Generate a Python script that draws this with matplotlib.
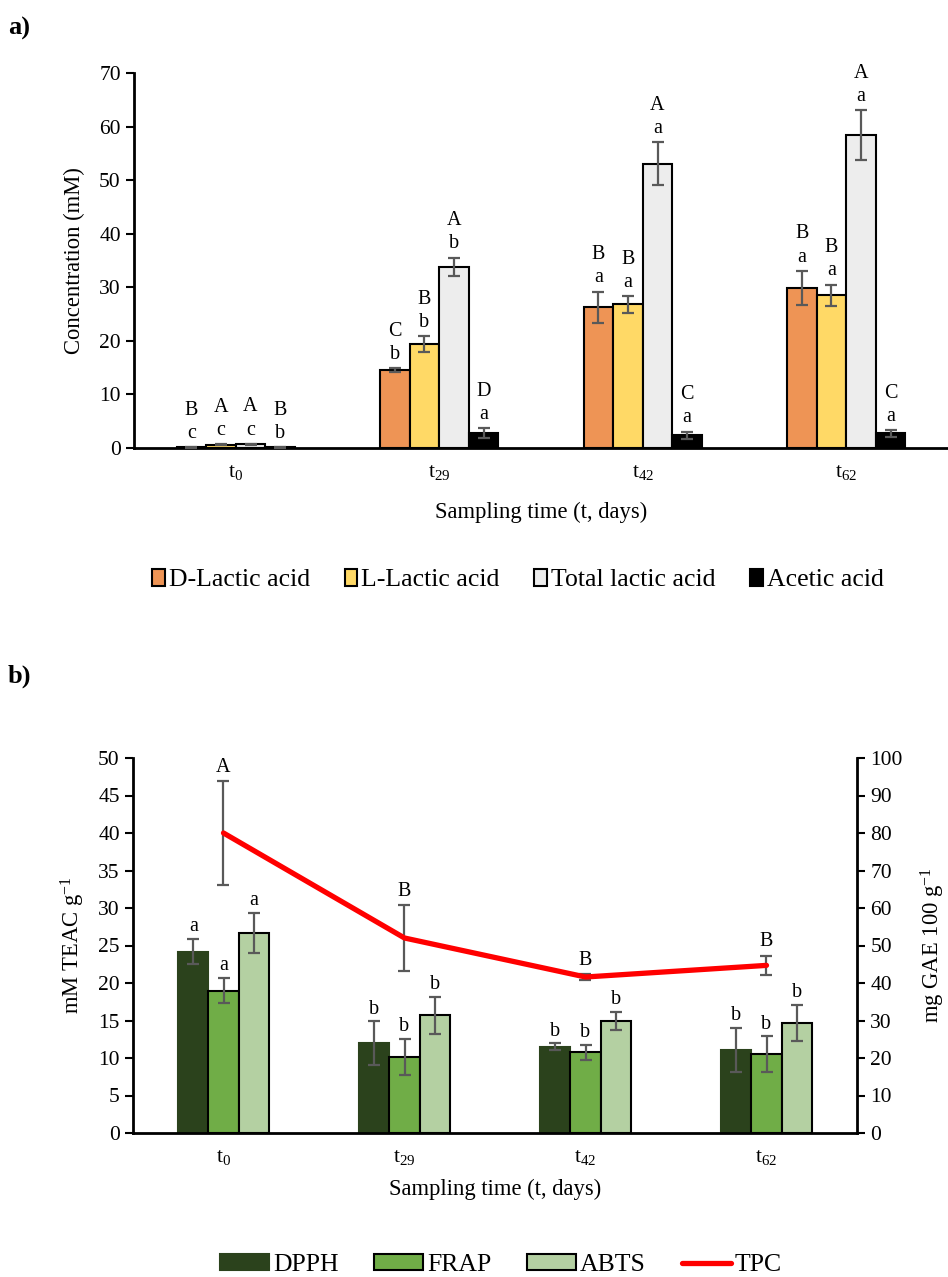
import matplotlib
matplotlib.use("Agg")
import matplotlib.pyplot as plt
import numpy as np
from matplotlib.patches import Patch
from matplotlib.lines import Line2D

plt.rcParams["font.family"] = ["Liberation Serif", "DejaVu Serif"]
plt.rcParams["mathtext.fontset"] = "custom"
plt.rcParams["mathtext.rm"] = "Liberation Serif"
plt.rcParams["mathtext.it"] = "Liberation Serif:italic"

# ---- data -------------------------------------------------------------
times = ["t$_{\\mathregular{0}}$", "t$_{\\mathregular{29}}$",
         "t$_{\\mathregular{42}}$", "t$_{\\mathregular{62}}$"]

acid_names = ["D-Lactic acid", "L-Lactic acid", "Total lactic acid", "Acetic acid"]
d_lactic = [0.1, 14.55, 26.25, 29.9]
l_lactic = [0.6, 19.4, 26.8, 28.5]
total_lactic = [0.7, 33.8, 53.1, 58.4]
acetic = [0.1, 2.85, 2.36, 2.74]
d_lactic_sd = [0.1, 0.3, 2.95, 3.2]
l_lactic_sd = [0.1, 1.5, 1.55, 2.0]
total_lactic_sd = [0.1, 1.75, 4.0, 4.7]
acetic_sd = [0.05, 0.9, 0.7, 0.6]
d_lactic_sig = ["B\nc", "C\nb", "B\na", "B\na"]
l_lactic_sig = ["A\nc", "B\nb", "B\na", "B\na"]
total_lactic_sig = ["A\nc", "A\nb", "A\na", "A\na"]
acetic_sig = ["B\nb", "D\na", "C\na", "C\na"]

dpph = [24.2, 11.97, 11.5, 11.08]
frap = [18.98, 10.2, 10.8, 10.47]
abts = [26.7, 15.7, 14.95, 14.67]
dpph_sd = [1.7, 2.9, 0.45, 2.9]
frap_sd = [1.7, 2.4, 1.0, 2.4]
abts_sd = [2.7, 2.5, 1.15, 2.45]
dpph_sig = ["a", "b", "b", "b"]
frap_sig = ["a", "b", "b", "b"]
abts_sig = ["a", "b", "b", "b"]
tpc = [80.0, 52.0, 41.6, 44.7]
tpc_sd = [13.9, 8.8, 0.8, 2.6]
tpc_sig = ["A", "B", "B", "B"]

# ---- layout helpers ----------------------------------------------------
W, H = 948, 1277
fig = plt.figure(figsize=(W / 100, H / 100), dpi=100)


def rect(left, top, right, bottom):
    return [left / W, 1 - bottom / H, (right - left) / W, (bottom - top) / H]


ERR = "#595959"
TICK_FS = 15.5
LAB_FS = 16.3
SIG_FS = 14.5
LEG_FS = 18.5

# ---- panel a) organic acids -------------------------------------------
ax = fig.add_axes(rect(134, 73, 948, 448))
x = np.arange(len(times))
bw = 0.145
acid_vals = [d_lactic, l_lactic, total_lactic, acetic]
acid_sds = [d_lactic_sd, l_lactic_sd, total_lactic_sd, acetic_sd]
acid_sigs = [d_lactic_sig, l_lactic_sig, total_lactic_sig, acetic_sig]
acid_colors = ["#EE9455", "#FFD966", "#EDEDED", "#000000"]
for i, (vals, sds, sigs, col) in enumerate(zip(acid_vals, acid_sds, acid_sigs, acid_colors)):
    pos = x + (i - 1.5) * bw
    ax.bar(pos, vals, bw, color=col, edgecolor="black", linewidth=1.5, zorder=2)
    ax.errorbar(pos, vals, yerr=sds, fmt="none", ecolor=ERR, elinewidth=1.6,
                capsize=4, capthick=1.6, zorder=3)
    for p, v, s, t in zip(pos, vals, sds, sigs):
        ax.annotate(t, (p, v + s), xytext=(0, 3), textcoords="offset points",
                    ha="center", va="bottom", fontsize=SIG_FS, linespacing=1.3)

ax.set_xlim(-0.5, 3.5)
ax.set_ylim(0, 70)
ax.set_yticks(np.arange(0, 71, 10))
ax.set_xticks(x)
ax.set_xticklabels(times, fontsize=TICK_FS)
ax.tick_params(axis="y", labelsize=TICK_FS, direction="out", length=6, width=1.5)
ax.tick_params(axis="x", length=0, pad=11)
for s in ["top", "right"]:
    ax.spines[s].set_visible(False)
for s in ["left", "bottom"]:
    ax.spines[s].set_linewidth(2)
ax.set_ylabel("Concentration (mM)", fontsize=LAB_FS, labelpad=10)
ax.set_xlabel("Sampling time (t, days)", fontsize=LAB_FS, labelpad=14)

handles_a = [Patch(facecolor=c, edgecolor="black", linewidth=1.5) for c in acid_colors]
fig.legend(handles_a, acid_names, loc="center", bbox_to_anchor=(518 / W, 1 - 580 / H),
           ncol=4, frameon=False, fontsize=LEG_FS, handlelength=0.5, handleheight=0.7,
           handletextpad=0.15, columnspacing=1.35)

fig.text(8 / W, 1 - 28 / H, "a)", fontsize=19, fontweight="bold", va="center", ha="left")
fig.text(8 / W, 1 - 676 / H, "b)", fontsize=19, fontweight="bold", va="center", ha="left")

# ---- panel b) antioxidant activity and TPC -----------------------------
bx = fig.add_axes(rect(133, 758, 857, 1133))
bw2 = 0.166
anti_vals = [dpph, frap, abts]
anti_sds = [dpph_sd, frap_sd, abts_sd]
anti_sigs = [dpph_sig, frap_sig, abts_sig]
anti_colors = ["#2B421C", "#70AD47", "#B4D0A2"]
anti_edges = ["#2B421C", "black", "black"]
for i, (vals, sds, sigs, col, ec) in enumerate(zip(anti_vals, anti_sds, anti_sigs, anti_colors, anti_edges)):
    pos = x + (i - 1) * bw2
    bx.bar(pos, vals, bw2, color=col, edgecolor=ec, linewidth=1.5, zorder=2)
    bx.errorbar(pos, vals, yerr=sds, fmt="none", ecolor=ERR, elinewidth=1.6,
                capsize=4, capthick=1.6, zorder=3)
    for p, v, s, t in zip(pos, vals, sds, sigs):
        bx.annotate(t, (p, v + s), xytext=(0, 2), textcoords="offset points",
                    ha="center", va="bottom", fontsize=SIG_FS)

bx.set_xlim(-0.5, 3.5)
bx.set_ylim(0, 50)
bx.set_yticks(np.arange(0, 51, 5))
bx.set_xticks(x)
bx.set_xticklabels(times, fontsize=TICK_FS)
bx.tick_params(axis="y", labelsize=TICK_FS, direction="out", length=6, width=1.5)
bx.tick_params(axis="x", length=0, pad=11)
bx.spines["top"].set_visible(False)
bx.spines["right"].set_visible(False)
for s in ["left", "bottom"]:
    bx.spines[s].set_linewidth(2)
bx.set_ylabel("mM TEAC g$^{\\mathregular{-1}}$", fontsize=LAB_FS, labelpad=8)
bx.set_xlabel("Sampling time (t, days)", fontsize=LAB_FS, labelpad=8)

tx = bx.twinx()
tx.set_ylim(0, 100)
tx.set_yticks(np.arange(0, 101, 10))
tx.tick_params(axis="y", labelsize=TICK_FS, direction="out", length=6, width=1.5)
for s in ["top", "left", "bottom"]:
    tx.spines[s].set_visible(False)
tx.spines["right"].set_linewidth(2)
tx.plot(x, tpc, color="#FF0000", linewidth=3.8, solid_capstyle="round", zorder=3)
tx.errorbar(x, tpc, yerr=tpc_sd, fmt="none", ecolor=ERR, elinewidth=1.6,
            capsize=4, capthick=1.6, zorder=2)
for p, v, s, t in zip(x, tpc, tpc_sd, tpc_sig):
    tx.annotate(t, (p, v + s), xytext=(0, 3), textcoords="offset points",
                ha="center", va="bottom", fontsize=SIG_FS)
tx.set_ylabel("mg GAE 100 g$^{\\mathregular{-1}}$", fontsize=LAB_FS, labelpad=12)

handles_b = [Patch(facecolor=c, edgecolor=e, linewidth=1.5) for c, e in zip(anti_colors, anti_edges)]
handles_b.append(Line2D([0], [0], color="#FF0000", linewidth=3.8, solid_capstyle="round"))
fig.legend(handles_b, ["DPPH", "FRAP", "ABTS", "TPC"], loc="center",
           bbox_to_anchor=(501 / W, 1 - 1265 / H), ncol=4, frameon=False,
           fontsize=LEG_FS, handlelength=1.9, handleheight=0.6,
           handletextpad=0.15, columnspacing=1.4)

fig.savefig("out.png", dpi=100)
